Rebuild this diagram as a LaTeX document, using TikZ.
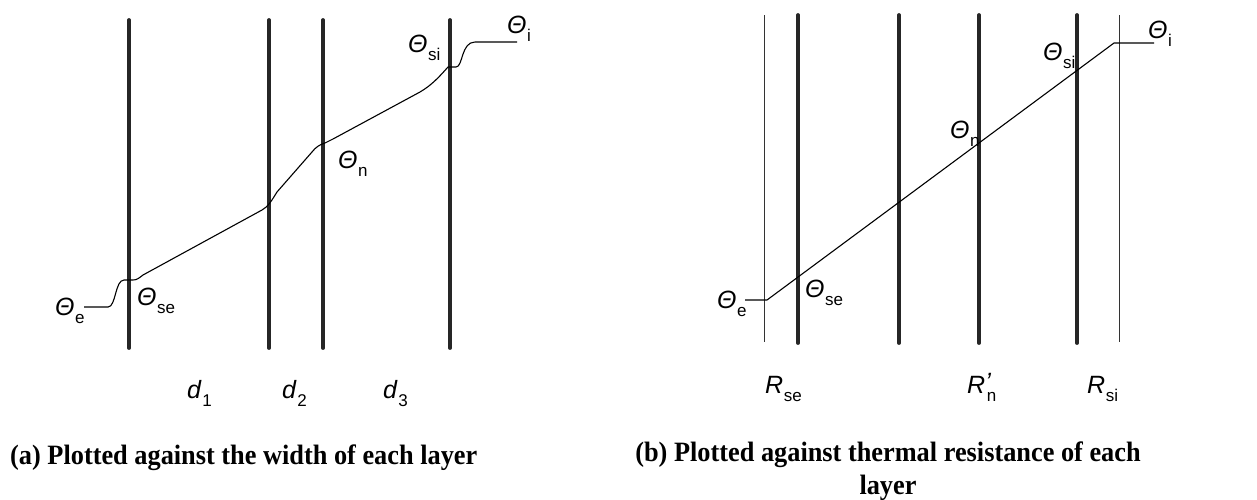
\documentclass[tikz,border=0pt]{standalone}
\usepackage{fontspec}
\setmainfont{Liberation Sans}
\newfontfamily\capfont{Liberation Serif}[FakeStretch=0.94]
\newcommand\sublab[2]{\textit{#1}\kern0.5pt\raisebox{-8pt}{\fontsize{17}{17}\selectfont #2}}
\begin{document}
\begin{tikzpicture}[x=1pt,y=-1pt,
  thickwall/.style={line width=3.8pt, line cap=round, color=black!85},
  thinwall/.style={line width=0.9pt, color=black!80},
  curve/.style={line width=1.1pt, line join=round},
  lab/.style={inner sep=0pt, anchor=base west, font=\fontsize{25}{25}\selectfont},
  captxt/.style={inner sep=0pt, font=\capfont\bfseries\fontsize{28}{33}\selectfont, align=center}]
\useasboundingbox (0,0) rectangle (1257,499);
% ---------- panel (a) ----------
\foreach \n/\x in {a1/129,a2/269,a3/323,a4/450}{
  \coordinate (\n t) at (\x,20);
  \coordinate (\n b) at (\x,348);
  \draw[thickwall] (\n t) -- (\n b);
}
\coordinate (ae) at (84,307);
\coordinate (ai) at (517,42);
\draw[curve] (ae) -- (108,307) .. controls (116,307) and (115,280) .. (124,280)
  -- (133,280) .. controls (137,280) and (139,278) .. (143,275)
  -- (262,210) .. controls (268,207) and (272,200) .. (277,192)
  -- (312,152) .. controls (316,147) and (319,145) .. (325,143)
  -- (333,139) -- (420,92) .. controls (432,85) and (440,76) .. (448,67)
  -- (456,67) .. controls (463,67) and (461,42) .. (475,42) -- (ai);
\node[lab] (lae) at (55,315) {\sublab{Θ}{e}};
\node[lab] (lase) at (137,305) {\sublab{Θ}{se}};
\node[lab] (lan) at (338,168) {\sublab{Θ}{n}};
\node[lab] (lasi) at (408,52) {\sublab{Θ}{si}};
\node[lab] (lai) at (507,33) {\sublab{Θ}{i}};
\node[lab] (d1) at (187,398) {\sublab{d}{1}};
\node[lab] (d2) at (282,398) {\sublab{d}{2}};
\node[lab] (d3) at (383,398) {\sublab{d}{3}};
\node[captxt, anchor=base west] (capa) at (10,464) {(a) Plotted against the width of each layer};
% ---------- panel (b) ----------
\foreach \n/\x in {bl/764,br/1119}{
  \coordinate (\n t) at (\x,15);
  \coordinate (\n b) at (\x,342);
  \draw[thinwall] (\n t) -- (\n b);
}
\foreach \n/\x in {b1/798,b2/899,b3/979,b4/1077}{
  \coordinate (\n t) at (\x,15);
  \coordinate (\n b) at (\x,343);
  \draw[thickwall] (\n t) -- (\n b);
}
\coordinate (be) at (745,300);
\coordinate (be2) at (767,300);
\coordinate (bi2) at (1114,43);
\coordinate (bi) at (1154,43);
\draw[curve] (be) -- (be2) -- (bi2) -- (bi);
\node[lab] (lbe) at (717,308) {\sublab{Θ}{e}};
\node[lab] (lbse) at (805,297) {\sublab{Θ}{se}};
\node[lab] (lbn) at (950,138) {\sublab{Θ}{n}};
\node[lab] (lbsi) at (1043,60) {\sublab{Θ}{si}};
\node[lab] (lbi) at (1148,38) {\sublab{Θ}{i}};
\node[lab] (rse) at (765,393) {\sublab{R}{se}};
\node[lab] (rn) at (967,393) {\textit{R}\rlap{\raisebox{3pt}{\textit{'}}}\kern1.5pt\raisebox{-8pt}{\fontsize{17}{17}\selectfont n}};
\node[lab] (rsi) at (1087,393) {\sublab{R}{si}};
\node[captxt, anchor=north] (capb) at (888,442) {(b) Plotted against thermal resistance of each\\layer};
\end{tikzpicture}
\end{document}
